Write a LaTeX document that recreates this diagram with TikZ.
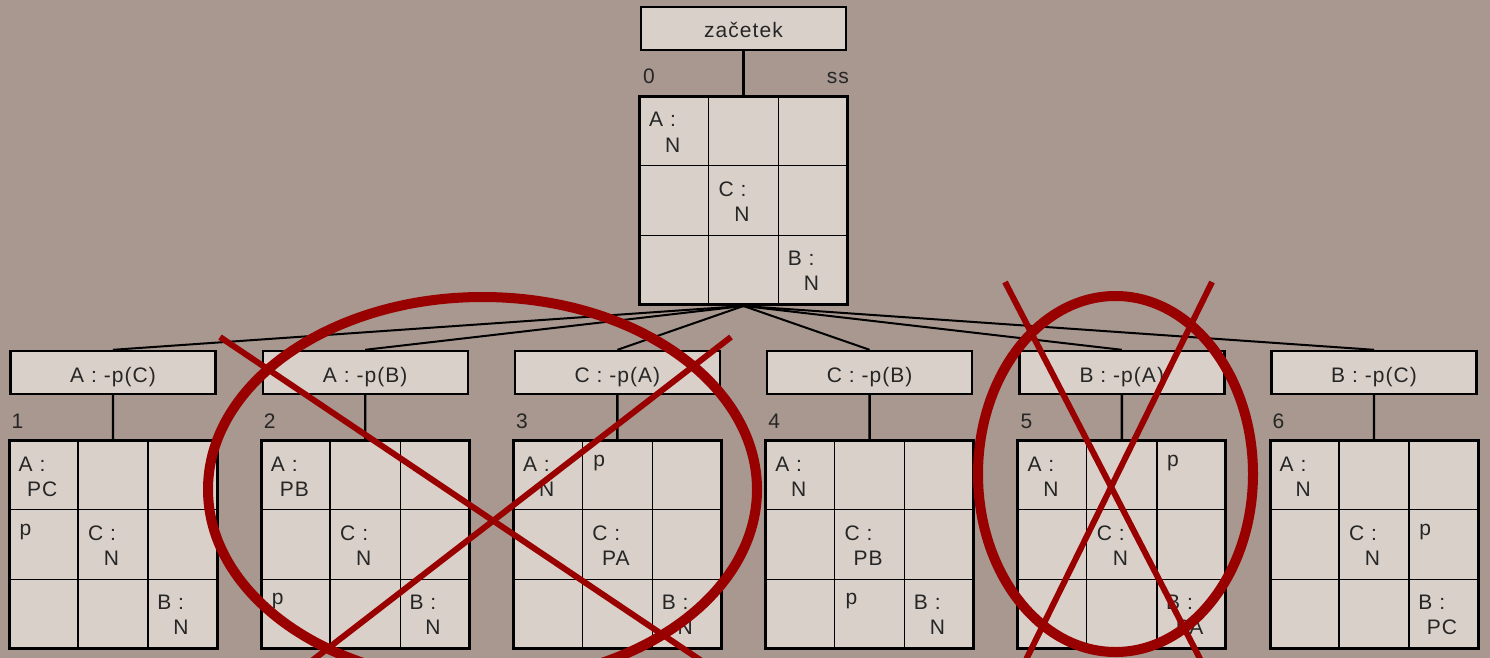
\documentclass[tikz,border=0pt]{standalone}
\usepackage{fontspec}
\setmainfont{Liberation Sans}[LetterSpace=5]
\usetikzlibrary{calc}

\definecolor{bgbrown}{HTML}{A89890}
\definecolor{boxfill}{HTML}{D9D0C9}
\definecolor{crossred}{HTML}{990000}
\definecolor{inkgray}{HTML}{262626}

\tikzset{
    lbl/.style={draw, line width=2.4pt, fill=boxfill, minimum width=205pt, minimum height=43pt,
        inner sep=0pt, text height=19pt, text depth=0pt, text=inkgray},
    board/.style={draw, line width=3pt, fill=boxfill, minimum width=208pt, minimum height=208pt, inner sep=0pt},
    celltxt/.style={inner sep=0pt, text=inkgray},
    strike/.style={crossred, line width=6pt},
    ring/.style={crossred, line width=10pt},
}

% inner lines of a 3x3 board
\newcommand{\gridlines}[1]{%
    \foreach \f in {1,2} {
        \draw[line width=1.4pt] ($(#1.north west)!\f/3!(#1.north east)$) -- ($(#1.south west)!\f/3!(#1.south east)$);
        \draw[line width=1.4pt] ($(#1.north west)!\f/3!(#1.south west)$) -- ($(#1.north east)!\f/3!(#1.south east)$);
    }}
% board, col, row, first line, second line
\newcommand{\owner}[5]{%
    \node[celltxt, anchor=base west] (#1-#2#3) at ($(#1.north west)+({#2*69.33+11},{#3*69.33+32})$) {#4};
    \node[celltxt, anchor=base] (#1-#2#3b) at ($(#1.north west)+({#2*69.33+34.7},{#3*69.33+57})$) {#5};}
% board, col, row
\newcommand{\pmark}[3]{%
    \node[celltxt, anchor=base west] (#1-#2#3) at ($(#1.north west)+({#2*69.33+12},{#3*69.33+27})$) {p};}

\begin{document}
\begin{tikzpicture}
[
    x=1pt, y=-1pt,
    font=\fontsize{21}{25}\selectfont,
    level distance=172pt,
    edge from parent/.style={draw, line width=2.4pt},
    edge from parent path={(\tikzparentnode.south) -- (\tikzchildnode.north)},
    level 2/.style={sibling distance=252.2pt, edge from parent/.style={draw, line width=2pt}},
    level 3/.style={edge from parent/.style={draw, line width=2.4pt}},
]
\fill[bgbrown] (0,0) rectangle (1490,658);
\useasboundingbox (0,0) rectangle (1490,658);

\node (l0) [lbl] at (743.5,28.5) {začetek}
    child {node (g0) [board] {}
        child {node (l1) [lbl] {A : -p(C)}
            child {node (g1) [board] {}}}
        child {node (l2) [lbl] {A : -p(B)}
            child {node (g2) [board] {}}}
        child {node (l3) [lbl] {C : -p(A)}
            child {node (g3) [board] {}}}
        child {node (l4) [lbl] {C : -p(B)}
            child {node (g4) [board] {}}}
        child {node (l5) [lbl] {B : -p(A)}
            child {node (g5) [board] {}}}
        child {node (l6) [lbl] {B : -p(C)}
            child {node (g6) [board] {}}}
    };

\foreach \b in {g0,g1,g2,g3,g4,g5,g6}
    \gridlines{\b};

% state numbers
\node[celltxt, anchor=base west] (n0) at ($(g0.north west)+(5,-11)$) {0};
\node[celltxt, anchor=base east] (ss) at ($(g0.north east)+(0,-11)$) {ss};
\foreach \k in {1,...,6}
    \node[celltxt, anchor=base west] (n\k) at ($(g\k.north west)+(4,-11)$) {\k};

% start
\owner{g0}{0}{0}{A :}{N}
\owner{g0}{1}{1}{C :}{N}
\owner{g0}{2}{2}{B :}{N}
% 1
\owner{g1}{0}{0}{A :}{PC}
\pmark{g1}{0}{1}
\owner{g1}{1}{1}{C :}{N}
\owner{g1}{2}{2}{B :}{N}
% 2
\owner{g2}{0}{0}{A :}{PB}
\owner{g2}{1}{1}{C :}{N}
\pmark{g2}{0}{2}
\owner{g2}{2}{2}{B :}{N}
% 3
\owner{g3}{0}{0}{A :}{N}
\pmark{g3}{1}{0}
\owner{g3}{1}{1}{C :}{PA}
\owner{g3}{2}{2}{B :}{N}
% 4
\owner{g4}{0}{0}{A :}{N}
\owner{g4}{1}{1}{C :}{PB}
\pmark{g4}{1}{2}
\owner{g4}{2}{2}{B :}{N}
% 5
\owner{g5}{0}{0}{A :}{N}
\pmark{g5}{2}{0}
\owner{g5}{1}{1}{C :}{N}
\owner{g5}{2}{2}{B :}{PA}
% 6
\owner{g6}{0}{0}{A :}{N}
\owner{g6}{1}{1}{C :}{N}
\pmark{g6}{2}{1}
\owner{g6}{2}{2}{B :}{PC}

% rejected branches
\draw[ring] (482.5,489.5) ellipse [x radius=274.5pt, y radius=192.5pt];
\draw[strike] (220,337) -- (730,680);
\draw[strike] (731,337) -- (287,680);
\draw[ring] (1115.5,474) ellipse [x radius=137.5pt, y radius=178pt];
\draw[strike] (1005,282) -- (1211,680);
\draw[strike] (1212,282) -- (1016,680);
\end{tikzpicture}
\end{document}
